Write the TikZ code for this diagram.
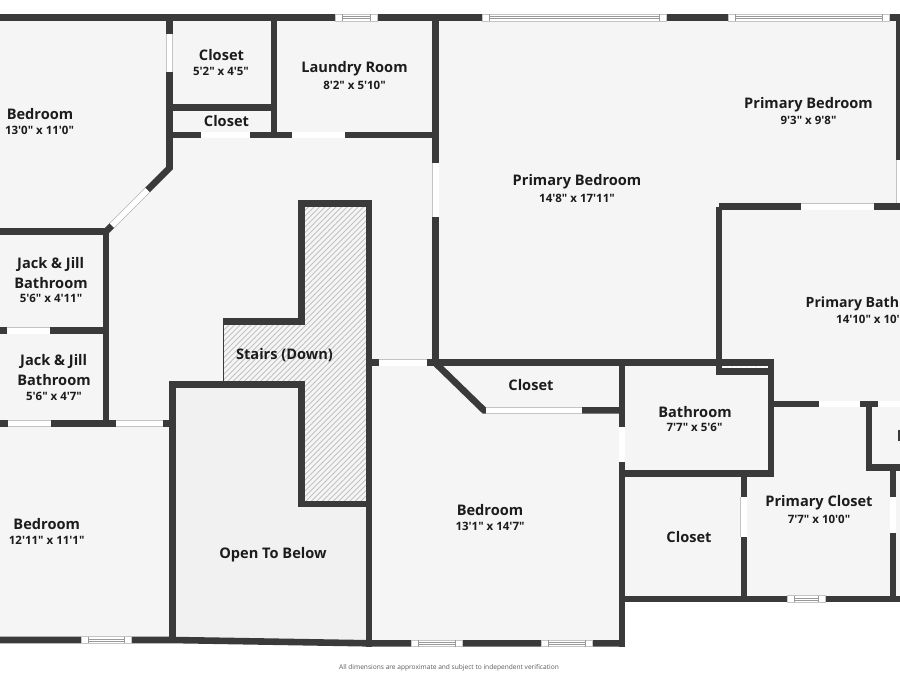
\documentclass[tikz,border=0pt]{standalone}
\usepackage{fontspec}
\setmainfont{Open Sans}[Ligatures=TeXOff]
\definecolor{wallc}{HTML}{3A3A3A}
\definecolor{floorc}{HTML}{F5F5F5}
\definecolor{openc}{HTML}{F1F1F1}
\definecolor{hatchc}{HTML}{C2C2C2}
\definecolor{edgec}{HTML}{C4C4C4}
\definecolor{txtc}{HTML}{1C1C1C}
\tikzset{
  wall/.style={draw=wallc,line width=6.6pt,line cap=butt,line join=miter},
  doorway/.style={draw=edgec,line width=.6pt,double=white,double distance=5.6pt,line cap=butt},
  winbox/.style={draw=edgec,line width=.6pt,fill=white},
  winline/.style={draw=gray!80,line width=.5pt},
  hatchline/.style={draw=hatchc,line width=.8pt},
  lab/.style={font=\fontsize{14.6}{16}\selectfont\bfseries,text=txtc,inner sep=0pt,anchor=center,yshift=-1pt},
  dim/.style={font=\fontsize{11.5}{13}\selectfont\bfseries,text=txtc,inner sep=0pt,anchor=center},
  foot/.style={font=\fontsize{6.6}{8}\selectfont,text=black!65,inner sep=0pt,anchor=center}
}
\newcommand{\hwin}[3]{%
  \fill[winbox] (#1,#3-3.4) rectangle (#2,#3+3.4);
  \draw[winline] (#1+7,#3-3.4) -- (#1+7,#3+3.4) (#2-7,#3-3.4) -- (#2-7,#3+3.4);
  \draw[winline] (#1+7,#3-1) -- (#2-7,#3-1) (#1+7,#3+1) -- (#2-7,#3+1);
}
\begin{document}
\begin{tikzpicture}[x=1pt,y=-1pt]
\useasboundingbox (0,0) rectangle (900,675);
% floor
\fill[floorc] (0,17) -- (900,17) -- (900,599) -- (622,599) -- (622,643) -- (370,643) -- (172,640) -- (0,640) -- cycle;
\fill[openc] (172,384) -- (302,384) -- (302,504) -- (369,504) -- (369,642) -- (172,640) -- cycle;
% stairs hatching
\begin{scope}
\clip (302,204) -- (369,204) -- (369,504) -- (302,504) -- (302,384) -- (223,384) -- (223,322) -- (302,322) -- cycle;
\foreach \k in {0,...,68} { \draw[hatchline] (5.5*\k,510) -- (5.5*\k+320,190); }
\end{scope}
\draw[wallc,line width=1pt] (223.5,322) -- (223.5,384);
% outer and inner walls
\draw[wall] (0,17.5) -- (900,17.5);
\draw[wall] (899.5,14) -- (899.5,210);
\draw[wall] (169.5,17) -- (169.5,168) -- (106,231.5) -- (0,231.5);
\draw[wall] (169.5,107.7) -- (274,107.7);
\draw[wall] (274,17) -- (274,135);
\draw[wall] (166,135) -- (439,135);
\draw[wall] (435.7,17) -- (435.7,362.7);
\draw[wall] (106,228) -- (106,427);
\draw[wall] (0,330.7) -- (106,330.7);
\draw[wall] (0,423.5) -- (172,423.5);
\draw[wall] (172.3,640) -- (172.3,384.3) -- (301.7,384.3) -- (301.7,504) -- (369,504);
\draw[wall] (369,646.5) -- (369,203.5) -- (301.7,203.5) -- (301.7,321.7) -- (223,321.7);
\draw[wall] (369,362.7) -- (774.3,362.7);
\draw[wall] (0,640) -- (172,640) -- (369,643.3) -- (622,643.3);
\draw[wall] (622,362.7) -- (622,646.6);
\draw[wall] (435,362.7) -- (484,410.3) -- (622,410.3);
\draw[wall] (719,206.7) -- (719,371.7) -- (771,371.7);
\draw[wall] (719,206.7) -- (900,206.7);
\draw[wall] (771,359.4) -- (771,476.6);
\draw[wall] (622,473.3) -- (771,473.3);
\draw[wall] (743.8,473) -- (743.8,599);
\draw[wall] (622,599) -- (900,599);
\draw[wall] (893,467.5) -- (893,599);
\draw[wall] (771,404) -- (900,404);
\draw[wall] (868.8,404) -- (868.8,467.5) -- (900,467.5);
\fill[wallc] (898.2,430) rectangle (900,441);
% small hatched strip
\fill[floorc] (722.3,366) rectangle (767.7,368.4);
\draw[white,line width=1.6pt,dash pattern=on 3.6pt off 1.2pt] (723,367.2) -- (767.5,367.2);
% door openings
\coordinate (d1a) at (169.5,34); \coordinate (d1b) at (169.5,72);
\draw[doorway] (d1a) -- (d1b);
\draw[doorway] (200.5,135) -- (250,135);
\draw[doorway] (292,135) -- (345,135);
\draw[doorway] (435.7,163) -- (435.7,217);
\draw[doorway] (147.5,190) -- (112,225.5);
\draw[doorway] (7,330.7) -- (50,330.7);
\draw[doorway] (7.5,423.5) -- (51,423.5);
\draw[doorway] (115.5,423.5) -- (163,423.5);
\draw[doorway] (378.5,362.7) -- (427,362.7);
\draw[doorway] (486,410.3) -- (582,410.3);
\draw[doorway] (622,427) -- (622,462);
\draw[doorway] (743.8,497) -- (743.8,537);
\draw[doorway] (893,497) -- (893,533);
\draw[doorway] (801,206.7) -- (874,206.7);
\draw[doorway] (818.5,404) -- (859.5,404);
\draw[doorway] (878,404) -- (900,404);
\draw[doorway] (899.5,160) -- (899.5,203);
% windows
\hwin{335}{377}{17.5}
\hwin{482}{666}{17.5}
\hwin{728}{889}{17.5}
\hwin{81}{131}{640}
\hwin{411}{462}{643.3}
\hwin{541}{592}{643.3}
\hwin{787}{825}{599}
% labels
\node[lab] (t1) at (40,113) {Bedroom};
\node[dim] (t2) at (39.5,130) {13'0" x 11'0"};
\node[lab] (t3) at (221.5,54) {Closet};
\node[dim] (t4) at (221,71) {5'2" x 4'5"};
\node[lab] (t5) at (226.5,120.5) {Closet};
\node[lab] (t6) at (354.5,68) {Laundry Room};
\node[dim] (t7) at (354.5,85) {8'2" x 5'10"};
\node[lab] (t8) at (577,181) {Primary Bedroom};
\node[dim] (t9) at (577,198) {14'8" x 17'11"};
\node[lab] (t10) at (808.5,103.5) {Primary Bedroom};
\node[dim] (t11) at (808.5,120.5) {9'3" x 9'8"};
\node[lab,anchor=west,font=\fontsize{14.1}{16}\selectfont\bfseries] (t12) at (805.5,302.5) {Primary Bath};
\node[dim,anchor=west] (t13) at (836,319.5) {14'10" x 10'};
\node[lab] (t14) at (50.7,263) {Jack \& Jill};
\node[lab] (t15) at (51,282) {Bathroom};
\node[dim] (t16) at (51,298.5) {5'6" x 4'11"};
\node[lab] (t17) at (53.7,360) {Jack \& Jill};
\node[lab] (t18) at (54,379) {Bathroom};
\node[dim] (t19) at (54,396) {5'6" x 4'7"};
\node[lab] (t20) at (46.7,523) {Bedroom};
\node[dim] (t21) at (46.7,540) {12'11" x 11'1"};
\node[lab] (t22) at (284.5,354) {Stairs (Down)};
\node[lab] (t23) at (273,553.5) {Open To Below};
\node[lab] (t24) at (531,384) {Closet};
\node[lab] (t25) at (695,411) {Bathroom};
\node[dim] (t26) at (694.5,427.5) {7'7" x 5'6"};
\node[lab] (t27) at (490,509.5) {Bedroom};
\node[dim] (t28) at (490,526) {13'1" x 14'7"};
\node[lab] (t29) at (689,536.5) {Closet};
\node[lab] (t30) at (819,502) {Primary Closet};
\node[dim] (t31) at (819,519) {7'7" x 10'0"};
\node[foot] (t32) at (449,667.5) {All dimensions are approximate and subject to independent verification};
\end{tikzpicture}
\end{document}
